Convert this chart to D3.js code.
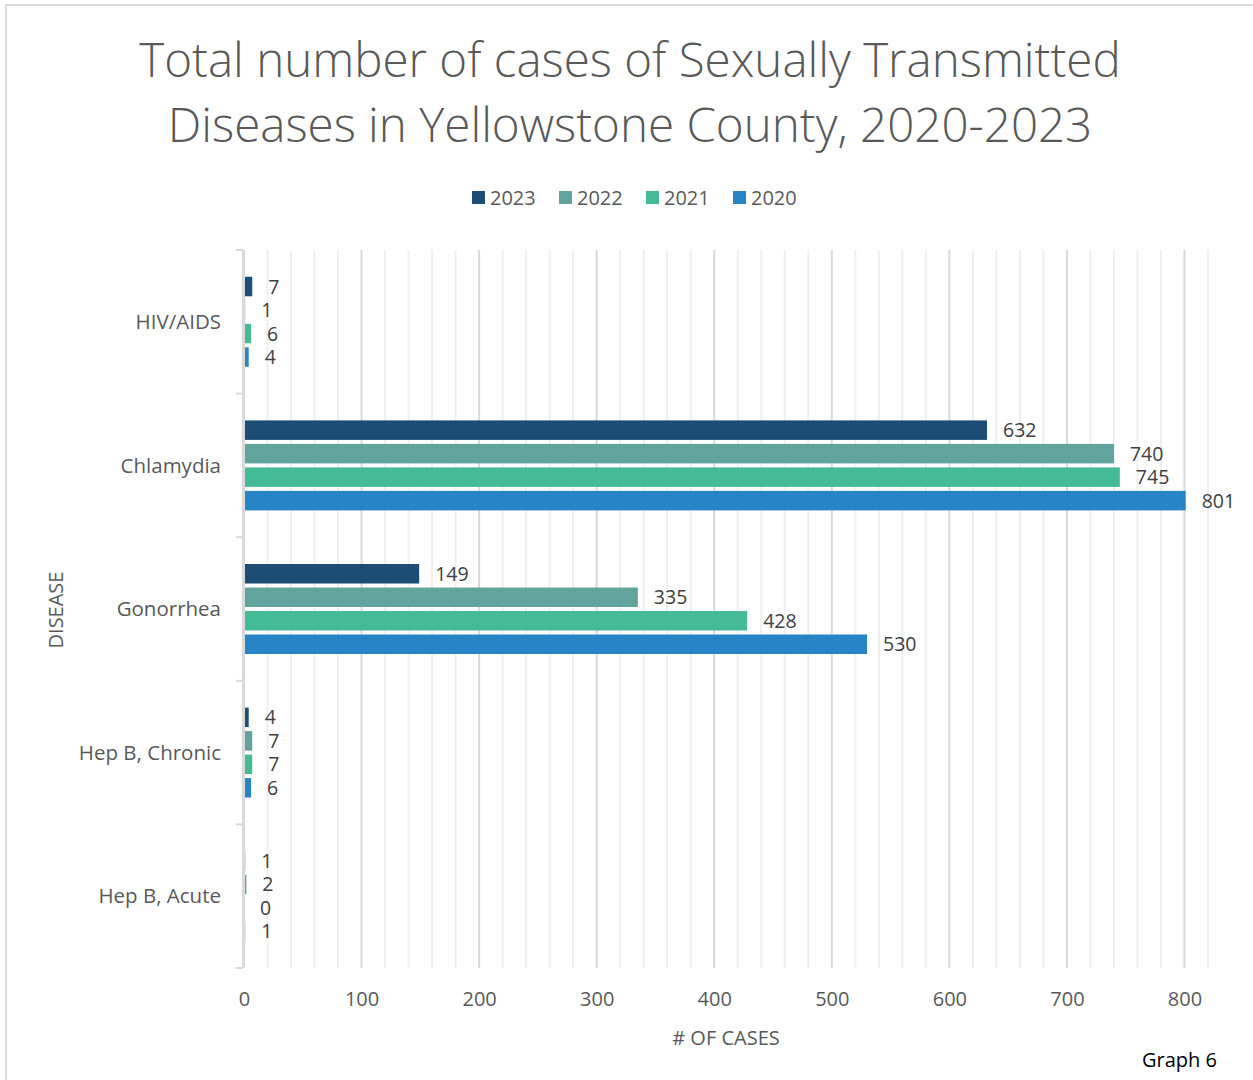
<!DOCTYPE html>
<html>
<head>
<meta charset="utf-8">
<script src="https://cdn.jsdelivr.net/npm/d3@7"></script>
<style>
  body { margin: 0; background: #fff; }
  svg { display: block; font-family: "Open Sans", sans-serif; }
</style>
</head>
<body>
<svg></svg>
<script>
const diseases = ["HIV/AIDS", "Chlamydia", "Gonorrhea", "Hep B, Chronic", "Hep B, Acute"];
const years = ["2023", "2022", "2021", "2020"];
const cases2023 = [7, 632, 149, 4, 1];
const cases2022 = [1, 740, 335, 7, 2];
const cases2021 = [6, 745, 428, 7, 0];
const cases2020 = [4, 801, 530, 6, 1];
const xTicks = [0, 100, 200, 300, 400, 500, 600, 700, 800];

const seriesValues = { "2023": cases2023, "2022": cases2022, "2021": cases2021, "2020": cases2020 };

const width = 1253, height = 1080;
const svg = d3.select("svg").attr("width", width).attr("height", height);

// chart border
svg.append("rect")
  .attr("x", 6).attr("y", 5).attr("width", width + 10).attr("height", height + 10)
  .attr("fill", "#fff").attr("stroke", "#d9d9d9").attr("stroke-width", 2);

const color = d3.scaleOrdinal()
  .domain(years)
  .range(["#1c4e75", "#62a39d", "#44bb96", "#2784c7"]);

const x = d3.scaleLinear().domain([0, 820]).range([244, 1208]);
const y0 = d3.scaleBand().domain(diseases).range([250, 968]).padding(0);
const y1 = d3.scaleBand().domain(years).range([0, 90]).paddingInner(0.17);
const groupOffset = (y0.bandwidth() - 90) / 2;

// gridlines
const minor = d3.range(0, 821, 20);
svg.append("g").selectAll("line")
  .data(minor)
  .enter()
  .append("line")
  .attr("x1", d => x(d)).attr("x2", d => x(d))
  .attr("y1", 250).attr("y2", 968)
  .attr("stroke", d => d % 100 === 0 ? "#d9d9d9" : "#efefef")
  .attr("stroke-width", 2);

// y axis line and category ticks
svg.append("line")
  .attr("x1", 243).attr("x2", 243).attr("y1", 250).attr("y2", 968)
  .attr("stroke", "#d9d9d9").attr("stroke-width", 2);
const bounds = diseases.map(d => y0(d)).concat([968]);
svg.append("g").selectAll("line")
  .data(bounds)
  .enter()
  .append("line")
  .attr("x1", 236).attr("x2", 243)
  .attr("y1", d => d).attr("y2", d => d)
  .attr("stroke", "#d9d9d9").attr("stroke-width", 2);

// bars
const rows = [];
diseases.forEach((d, i) => {
  years.forEach(yr => rows.push({ disease: d, year: yr, value: seriesValues[yr][i] }));
});

svg.append("g").selectAll("rect")
  .data(rows)
  .enter()
  .append("rect")
  .attr("x", x(0) + 1)
  .attr("y", d => y0(d.disease) + groupOffset + y1(d.year))
  .attr("width", d => Math.max(0, x(d.value) - x(0) - 1))
  .attr("height", y1.bandwidth())
  .attr("fill", d => color(d.year));

svg.append("g").selectAll("text")
  .data(rows)
  .enter()
  .append("text")
  .attr("x", d => x(d.value) + 16)
  .attr("y", d => y0(d.disease) + groupOffset + y1(d.year) + y1.bandwidth() / 2)
  .attr("dy", "0.36em")
  .attr("font-size", 19.5)
  .attr("fill", "#404040")
  .text(d => d.value);

// x axis
const xAxis = svg.append("g")
  .attr("transform", "translate(0,968)")
  .call(d3.axisBottom(x).tickValues(xTicks).tickSize(0).tickPadding(24));
xAxis.select(".domain").remove();
xAxis.selectAll("text")
  .attr("font-family", "Open Sans, sans-serif")
  .attr("font-size", 20)
  .attr("fill", "#595959");

// y axis labels
svg.append("g").selectAll("text")
  .data(diseases)
  .enter()
  .append("text")
  .attr("x", 221)
  .attr("y", d => y0(d) + y0.bandwidth() / 2)
  .attr("dy", "0.35em")
  .attr("text-anchor", "end")
  .attr("font-size", 20.5)
  .attr("fill", "#595959")
  .text(d => d);

// axis titles
svg.append("text")
  .attr("transform", "translate(63,610) rotate(-90)")
  .attr("text-anchor", "middle")
  .attr("font-size", 20)
  .attr("fill", "#595959")
  .text("DISEASE");

svg.append("text")
  .attr("x", 726).attr("y", 1045)
  .attr("text-anchor", "middle")
  .attr("font-size", 20)
  .attr("fill", "#595959")
  .text("# OF CASES");

// title
const title = ["Total number of cases of Sexually Transmitted", "Diseases in Yellowstone County, 2020-2023"];
svg.append("g").selectAll("text")
  .data(title)
  .enter()
  .append("text")
  .attr("x", 630)
  .attr("y", (d, i) => 77 + i * 65)
  .attr("text-anchor", "middle")
  .attr("font-size", 47.5)
  .attr("font-weight", 300)
  .attr("fill", "#595959")
  .text(d => d);

// legend
const legend = svg.append("g").selectAll("g")
  .data(years)
  .enter()
  .append("g")
  .attr("transform", (d, i) => `translate(${472 + i * 87},191)`);
legend.append("rect")
  .attr("width", 13).attr("height", 13)
  .attr("fill", d => color(d));
legend.append("text")
  .attr("x", 18).attr("y", 7)
  .attr("dy", "0.35em")
  .attr("font-size", 20)
  .attr("fill", "#595959")
  .text(d => d);

svg.append("text")
  .attr("x", 1217).attr("y", 1067)
  .attr("text-anchor", "end")
  .attr("font-size", 20)
  .attr("fill", "#000")
  .text("Graph 6");
</script>
</body>
</html>
